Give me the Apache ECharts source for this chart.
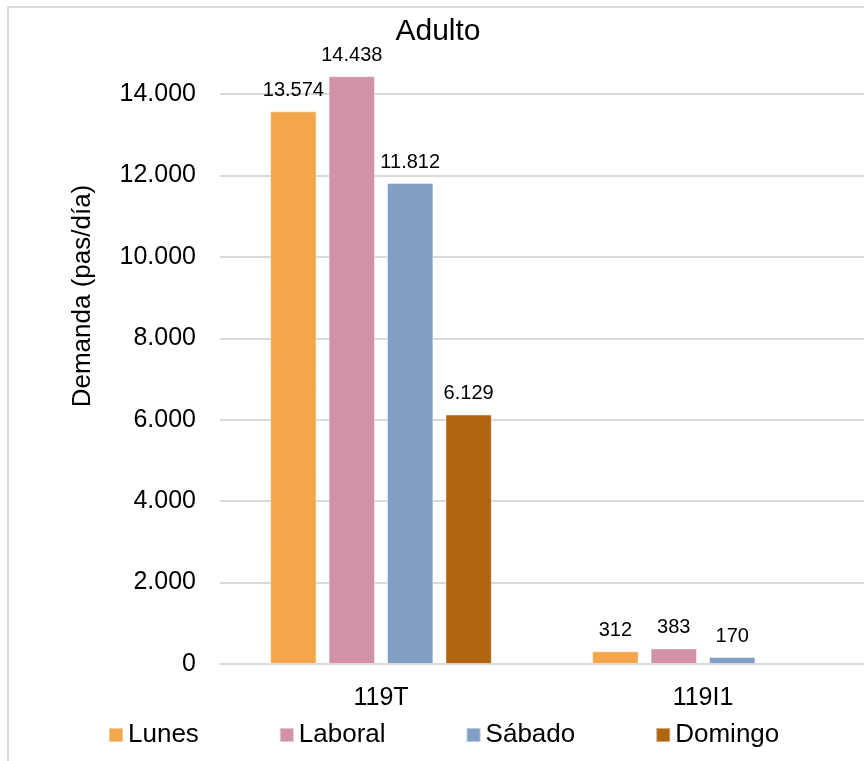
<!DOCTYPE html>
<html>
<head>
<meta charset="utf-8">
<script src="https://cdn.jsdelivr.net/npm/echarts@6/dist/echarts.min.js"></script>
<style>
  html, body { margin: 0; padding: 0; background: #ffffff; }
  #chart { width: 864px; height: 761px; }
</style>
</head>
<body>
<div id="chart"></div>
<script>
// Daily adult demand per route and day type
const categories = ['119T', '119I1'];
const lunes = [13574, 312];
const laboral = [14438, 383];
const sabado = [11812, 170];
const domingo = [6129, 0];
const yTicks = { min: 0, max: 14000, interval: 2000 };

const FONT = '"Liberation Sans", Arial, sans-serif';

// Spanish thousands separator: 13574 -> 13.574
function fmt(v) {
  return String(Math.round(v)).replace(/\B(?=(\d{3})+(?!\d))/g, '.');
}

function barSeries(name, values, color) {
  return {
    name: name,
    type: 'bar',
    // zero-height bars get no outline so nothing shows on the axis
    data: values.map(function (v) {
      return v === 0 ? { value: v, itemStyle: { borderWidth: 0 } } : v;
    }),
    barWidth: '14.4%',
    barGap: '26%',
    clip: false,
    itemStyle: {
      color: color,
      borderColor: 'rgba(255,255,255,0.45)',
      borderWidth: 1
    },
    label: {
      show: true,
      position: 'top',
      distance: 11,
      color: '#000000',
      fontFamily: FONT,
      fontSize: 20,
      formatter: function (p) { return p.value > 0 ? fmt(p.value) : ''; }
    }
  };
}

const chart = echarts.init(document.getElementById('chart'), null, { renderer: 'canvas' });

chart.setOption({
  backgroundColor: '#ffffff',
  animation: false,
  title: {
    text: 'Adulto',
    left: 433,
    top: 12,
    textAlign: 'center',
    textStyle: { fontFamily: FONT, fontSize: 30, fontWeight: 'normal', color: '#000000' }
  },
  graphic: [
    {
      type: 'rect',
      shape: { x: 8, y: 7, width: 900, height: 800 },
      style: { fill: 'none', stroke: '#d9d9d9', lineWidth: 2 },
      silent: true
    },
    {
      type: 'text',
      x: 83,
      y: 296,
      rotation: Math.PI / 2,
      style: {
        text: 'Demanda (pas/día)',
        fontFamily: FONT,
        fontSize: 26,
        fill: '#000000',
        align: 'center',
        verticalAlign: 'middle'
      },
      silent: true
    }
  ],
  legend: {
    left: 103,
    top: 717,
    icon: 'rect',
    itemWidth: 14,
    itemHeight: 14,
    itemGap: 80,
    textStyle: { fontFamily: FONT, fontSize: 26, color: '#000000' },
    data: ['Lunes', 'Laboral', 'Sábado', 'Domingo']
  },
  grid: {
    left: 220,
    top: 94,
    width: 648,
    bottom: 97,
    containLabel: false
  },
  xAxis: {
    type: 'category',
    data: categories,
    axisLine: { show: true, lineStyle: { color: '#d9d9d9', width: 2 } },
    axisTick: { show: false },
    axisLabel: { fontFamily: FONT, fontSize: 25, color: '#000000', margin: 22 }
  },
  yAxis: {
    type: 'value',
    min: yTicks.min,
    max: yTicks.max,
    interval: yTicks.interval,
    axisLine: { show: false },
    axisTick: { show: false },
    splitLine: { show: true, lineStyle: { color: '#d9d9d9', width: 2 } },
    axisLabel: {
      fontFamily: FONT,
      fontSize: 25,
      color: '#000000',
      margin: 24,
      formatter: function (v) { return fmt(v); }
    }
  },
  series: [
    barSeries('Lunes', lunes, '#f3a64a'),
    barSeries('Laboral', laboral, '#d192a6'),
    barSeries('Sábado', sabado, '#819fc4'),
    barSeries('Domingo', domingo, '#b0660f')
  ]
});
</script>
</body>
</html>
